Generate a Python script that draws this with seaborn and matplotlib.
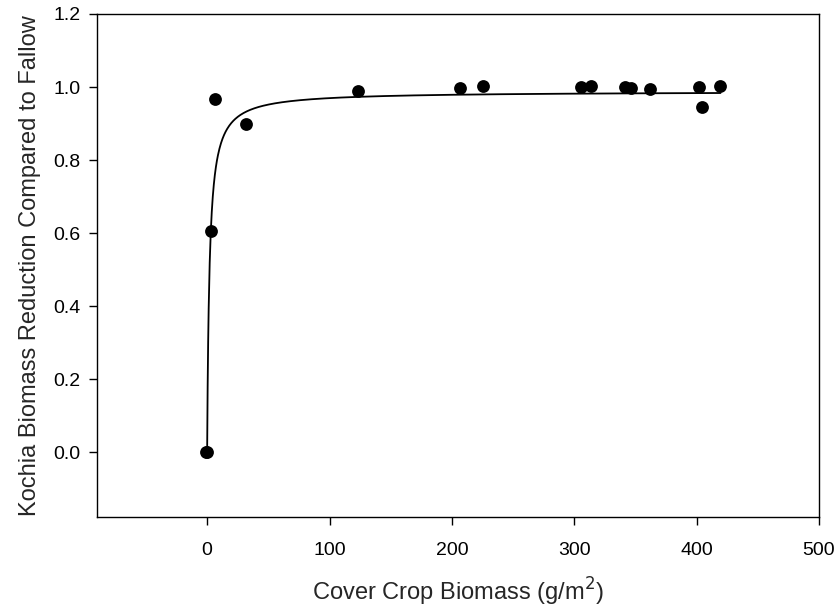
import numpy as np
import pandas as pd
import matplotlib
matplotlib.use("Agg")
import matplotlib.pyplot as plt
import seaborn as sns

# cover crop biomass (g/m2) and kochia biomass reduction
biomass = [0.0, -1.0, 3.3, 6.3, 31.7, 123.0, 207.0, 225.3, 305.8, 314.0,
           341.8, 346.7, 361.7, 401.8, 404.5, 419.5]
reduction = [0.0, 0.0, 0.605, 0.966, 0.900, 0.990, 0.998, 1.003, 0.999, 1.003,
             0.999, 0.996, 0.994, 0.999, 0.946, 1.003]
x_ticks = [0, 100, 200, 300, 400, 500]
y_ticks = [0.0, 0.2, 0.4, 0.6, 0.8, 1.0, 1.2]

# hyperbolic model y = A*x/(B+x), parameters
FIT_A = 0.988
FIT_B = 1.9

df = pd.DataFrame({"biomass": biomass, "reduction": reduction})

x_line = np.linspace(0, max(biomass), 1000)
curve = pd.DataFrame({"biomass": x_line, "reduction": FIT_A * x_line / (FIT_B + x_line)})

sns.set_theme(style="ticks")
plt.rcParams["font.family"] = ["Liberation Sans", "DejaVu Sans"]

fig = plt.figure(figsize=(8.38, 6.08), dpi=100)
ax = fig.add_axes([97 / 838, 1 - 517 / 608, (819 - 97) / 838, (517 - 14) / 608])

sns.lineplot(data=curve, x="biomass", y="reduction", color="black", linewidth=1.3, ax=ax)
sns.scatterplot(data=df, x="biomass", y="reduction", color="black", s=85,
                edgecolor="black", linewidth=0, ax=ax, zorder=3)

ax.set_xlim(-90, 500)
ax.set_ylim(-0.178, 1.2)
ax.set_xticks(x_ticks)
ax.set_yticks(y_ticks)
ax.set_yticklabels([f"{v:.1f}" for v in y_ticks])
ax.tick_params(direction="out", length=6, width=1, labelsize=14, colors="black")
ax.tick_params(axis="x", pad=12)
ax.tick_params(axis="y", pad=6)
for sp in ax.spines.values():
    sp.set_color("black")
    sp.set_linewidth(1)

ax.set_xlabel("Cover Crop Biomass (g/m$^2$)", fontsize=17, labelpad=12)
ax.set_ylabel("Kochia Biomass Reduction Compared to Fallow", fontsize=17, labelpad=9)

fig.savefig("out.png", dpi=100)
